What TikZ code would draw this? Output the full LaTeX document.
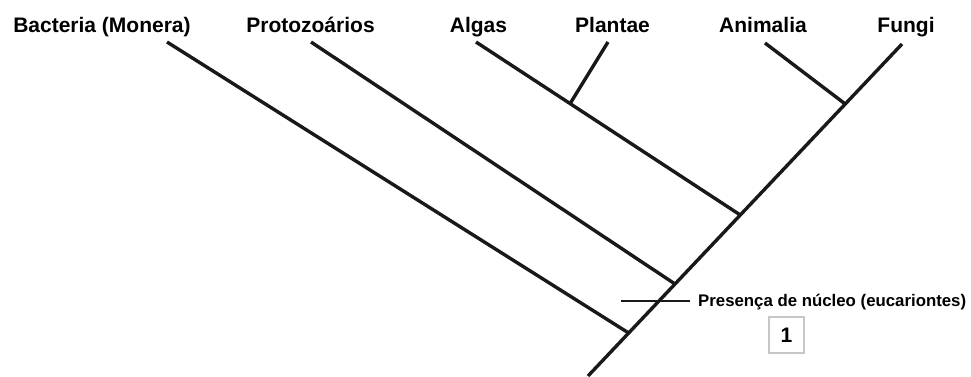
\documentclass[tikz,border=0pt]{standalone}
\usepackage{fontspec}
\setmainfont{Liberation Sans}
\usetikzlibrary{calc}
\begin{document}
\begin{tikzpicture}[x=1pt,y=-1pt,
  taxon/.style={font=\fontsize{21}{24}\selectfont\bfseries, anchor=base, inner sep=0pt},
  branch/.style={line width=3.4pt, line cap=butt, color=black!90},
  trait/.style={line width=1.6pt, color=black!90},
  traitlabel/.style={font=\fontsize{16.8}{20}\selectfont\bfseries, anchor=west, inner sep=0pt},
  numbox/.style={draw=black!22, line width=1.4pt, minimum width=35pt, minimum height=36pt,
    inner sep=0pt, font=\fontsize{21}{24}\selectfont\bfseries}]
\useasboundingbox (0,0) rectangle (971,376);

% taxon names along the top
\node[taxon] (bac) at (102,32) {Bacteria (Monera)};
\node[taxon] (pro) at (310.5,32) {Protozoários};
\node[taxon] (alg) at (478.5,32) {Algas};
\node[taxon] (pla) at (612.5,32) {Plantae};
\node[taxon] (ani) at (763,32) {Animalia};
\node[taxon] (fun) at (906,32) {Fungi};

% branch tips
\coordinate (tbac) at (167,42);
\coordinate (tpro) at (311,42);
\coordinate (talg) at (476,42);
\coordinate (tpla) at (608,42);
\coordinate (tani) at (765,43);
\coordinate (tfun) at (902,44);

% root of the tree and the junctions on the trunk
\coordinate (root) at (588,376);
\coordinate (jbac) at ($(root)!{43/332}!(tfun)$);
\coordinate (jpro) at ($(root)!{92/332}!(tfun)$);
\coordinate (jalg) at ($(root)!{161/332}!(tfun)$);
\coordinate (jani) at ($(root)!{272/332}!(tfun)$);
\coordinate (jpla) at ($(talg)!0.356!(jalg)$);

% trunk and branches
\draw[branch] (root) -- (tfun);
\draw[branch] (tbac) -- (jbac);
\draw[branch] (tpro) -- (jpro);
\draw[branch] (talg) -- (jalg);
\draw[branch] (tpla) -- (jpla);
\draw[branch] (tani) -- (jani);

% character marker on the trunk
\coordinate (mstart) at (621,301);
\coordinate (mend) at (690,301);
\node[traitlabel] (nuc) at (698,302) {Presença de núcleo (eucariontes)};
\draw[trait] (mstart) -- (mend);
\node[numbox] (n1) at (786.5,335) {1};
\end{tikzpicture}
\end{document}
